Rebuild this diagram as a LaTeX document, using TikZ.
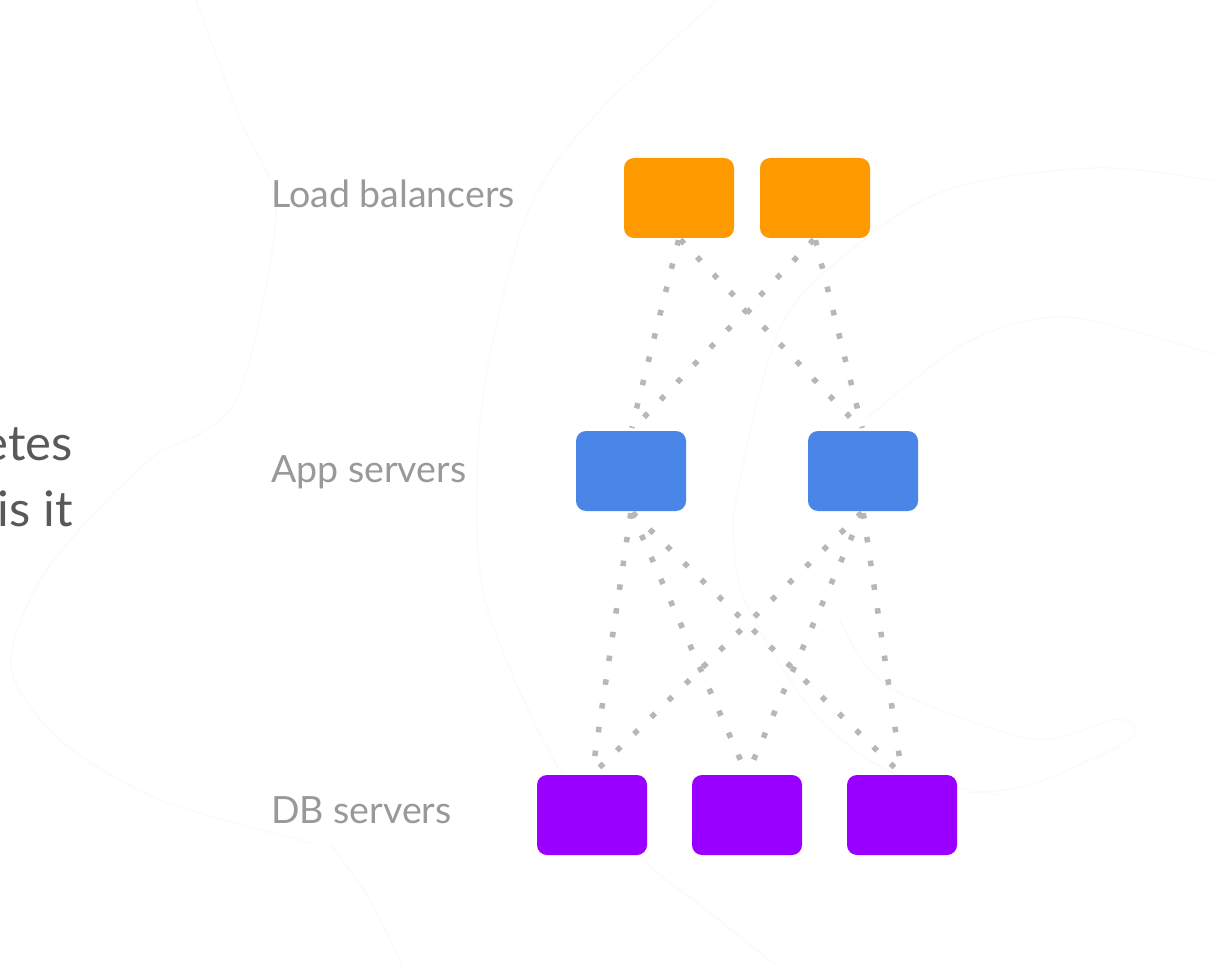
\documentclass[tikz,border=0pt]{standalone}
\usepackage{fontspec}
\setmainfont{Lato}
\definecolor{lbcol}{HTML}{FF9900}
\definecolor{appcol}{HTML}{4A86E8}
\definecolor{dbcol}{HTML}{9900FF}
\definecolor{wirecol}{HTML}{B7B7B7}
\definecolor{tiercol}{HTML}{999999}
\definecolor{introcol}{HTML}{595959}
\definecolor{ghostcol}{HTML}{FAFAFA}
\tikzset{
  server/.style={rectangle, rounded corners=10pt, minimum width=110pt,
    minimum height=80pt, inner sep=0pt, draw=none},
  lbbox/.style={server, fill=lbcol},
  appbox/.style={server, fill=appcol},
  dbbox/.style={server, fill=dbcol},
  wire/.style={draw=wirecol, line width=5.5pt,
    dash pattern=on 5.5pt off 18.5pt, shorten <=2pt, shorten >=3pt},
  tier/.style={anchor=base west, text=tiercol, inner sep=0pt,
    font=\fontsize{37.5}{45}\selectfont},
  intro/.style={anchor=base east, text=introcol, inner sep=0pt,
    font=\fontsize{49}{59}\selectfont},
  ghost/.style={draw=ghostcol, line width=1.2pt}
}
\begin{document}
\begin{tikzpicture}[x=1pt,y=-1pt]
\useasboundingbox (0,0) rectangle (1215,965);
\fill[white] (0,0) rectangle (1215,965);

% faint background outlines
\draw[ghost] plot[smooth] coordinates {(196,0) (240,120) (276,213) (236,400) (161,450)};
\draw[ghost] plot[smooth] coordinates {(161,450) (107,500) (40,580) (11,667) (60,740) (160,800) (312,843)};
\draw[ghost] plot[smooth] coordinates {(330,843) (370,900) (402,965)};
\draw[ghost] plot[smooth] coordinates {(717,0) (600,110) (533,200) (495,330) (478,450) (485,600) (558,767) (643,860) (700,905) (775,965)};
\draw[ghost] plot[smooth] coordinates {(733,516) (760,390) (800,297) (933,195) (1093,168) (1215,181)};
\draw[ghost] plot[smooth] coordinates {(867,418) (967,342) (1067,317) (1215,355)};
\draw[ghost] plot[smooth] coordinates {(733,516) (743,596) (810,708) (887,770) (1000,795)};
\draw[ghost] plot[smooth] coordinates {(840,619) (887,686) (1033,739) (1117,719) (1130,739) (1033,784) (967,793)};

% cut-off heading text at the left edge
\node[intro] (introA) at (73,460) {etes};
\node[intro] (introB) at (73,526) {is it};

% tier labels
\node[tier] (tlb)  at (271,208) {Load balancers};
\node[tier] (tapp) at (271,482) {App servers};
\node[tier] (tdb)  at (271,823) {DB servers};

% servers
\node[lbbox]  (lb1)  at (679,198) {};
\node[lbbox]  (lb2)  at (815,198) {};
\node[appbox] (app1) at (631,471) {};
\node[appbox] (app2) at (863,471) {};
\node[dbbox]  (db1)  at (592,815) {};
\node[dbbox]  (db2)  at (747,815) {};
\node[dbbox]  (db3)  at (902,815) {};

% dotted links between tiers
\draw[wire] (lb1.south) -- (app1.north);
\draw[wire] (lb1.south) -- (app2.north);
\draw[wire] (lb2.south) -- (app1.north);
\draw[wire] (lb2.south) -- (app2.north);
\draw[wire] (app1.south) -- (db1.north);
\draw[wire] (app1.south) -- (db2.north);
\draw[wire] (app1.south) -- (db3.north);
\draw[wire] (app2.south) -- (db1.north);
\draw[wire] (app2.south) -- (db2.north);
\draw[wire] (app2.south) -- (db3.north);
\end{tikzpicture}
\end{document}
